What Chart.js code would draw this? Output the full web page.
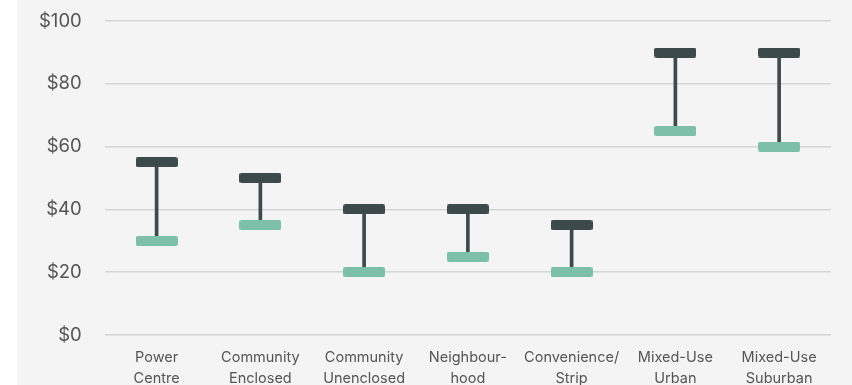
<!DOCTYPE html>
<html>
<head>
<meta charset="utf-8">
<script src="https://cdn.jsdelivr.net/npm/chart.js@4"></script>
<style>
  html, body { margin: 0; padding: 0; background: #ffffff; overflow: hidden; }
  .wrap {
    position: absolute;
    left: 17px;
    top: 0;
    width: 835px;
    height: 385px;
    overflow: hidden;
    background: #f3f4f3;
  }
  .inner {
    position: relative;
    width: 835px;
    height: 401px;
  }
</style>
</head>
<body>
<div class="wrap"><div class="inner"><canvas id="rangeChart"></canvas></div></div>
<script>
"use strict";

// data
const categories = [
  ["Power", "Centre"],
  ["Community", "Enclosed"],
  ["Community", "Unenclosed"],
  ["Neighbour-", "hood"],
  ["Convenience/", "Strip"],
  ["Mixed-Use", "Urban"],
  ["Mixed-Use", "Suburban"]
];
const highValues = [55, 50, 40, 40, 35, 90, 90];
const lowValues = [30, 35, 20, 25, 20, 65, 60];
const yTicks = [0, 20, 40, 60, 80, 100];

const darkColor = "#3c4a4b";
const greenColor = "#7dc0aa";

// little rounded bars used as point markers
function makeCap(color) {
  const c = document.createElement("canvas");
  c.width = 42;
  c.height = 10;
  const g = c.getContext("2d");
  g.fillStyle = color;
  g.beginPath();
  g.roundRect(0, 0, 42, 10, 2);
  g.fill();
  return c;
}

const ranges = lowValues.map((lo, i) => [lo, highValues[i]]);

const ctx = document.getElementById("rangeChart").getContext("2d");

new Chart(ctx, {
  data: {
    labels: categories,
    datasets: [
      {
        type: "bar",
        label: "Range",
        data: ranges,
        backgroundColor: darkColor,
        barThickness: 3,
        order: 3
      },
      {
        type: "line",
        label: "Low",
        data: lowValues,
        showLine: false,
        pointStyle: makeCap(greenColor),
        order: 2
      },
      {
        type: "line",
        label: "High",
        data: highValues,
        showLine: false,
        pointStyle: makeCap(darkColor),
        order: 1
      }
    ]
  },
  options: {
    responsive: true,
    maintainAspectRatio: false,
    animation: false,
    events: [],
    layout: {
      padding: { top: 0, right: 21, bottom: 0, left: 11 }
    },
    plugins: {
      legend: { display: false },
      tooltip: { enabled: false }
    },
    scales: {
      x: {
        grid: { display: false, drawTicks: false },
        border: { display: false },
        ticks: {
          color: "#555555",
          padding: 12,
          maxRotation: 0,
          autoSkip: false,
          font: { family: "Inter", size: 14.5, lineHeight: 1.45 }
        }
      },
      y: {
        min: 0,
        max: 100,
        afterBuildTicks: (axis) => {
          axis.ticks = yTicks.map((v) => ({ value: v }));
        },
        // invisible tick marks give the gap between labels and grid
        grid: { color: "#d4d5d4", lineWidth: 1.5, tickLength: 12, tickColor: "transparent" },
        border: { display: false },
        ticks: {
          color: "#555555",
          padding: 11,
          font: { family: "Inter", size: 18.5, lineHeight: 1.1 },
          callback: (v) => "$" + v
        }
      }
    }
  }
});
</script>
</body>
</html>
